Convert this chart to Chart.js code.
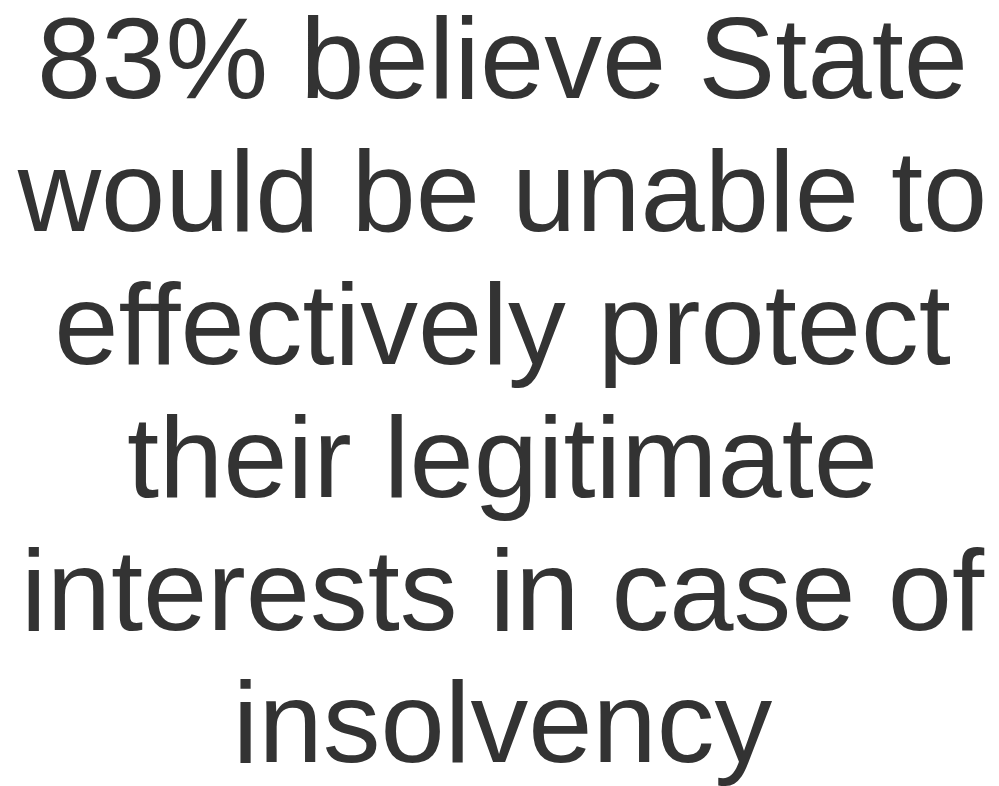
<!DOCTYPE html>
<html>
<head>
<meta charset="utf-8">
<script src="https://cdn.jsdelivr.net/npm/chart.js@4/dist/chart.umd.min.js"></script>
<style>
  html, body { margin: 0; padding: 0; background: #ffffff; }
  #wrap { width: 999px; height: 786px; }
</style>
</head>
<body>
<div id="wrap"><canvas id="headlineChart" width="999" height="786"></canvas></div>
<script>
// headline text, one entry per line as it wraps in the picture
const headlineLines = [
  '83% believe State',
  'would be unable to',
  'effectively protect',
  'their legitimate',
  'interests in case of',
  'insolvency'
];
// no bars in the picture; keep an empty series so the chart still builds
const categories = [];
const seriesValues = [];

const ctx = document.getElementById('headlineChart').getContext('2d');
window.headlineChart = new Chart(ctx, {
  type: 'bar',
  data: {
    labels: categories,
    datasets: [{ label: 'share', data: seriesValues, backgroundColor: '#333333' }]
  },
  options: {
    responsive: false,
    animation: false,
    // text in the picture sits a few px right of centre
    layout: { padding: { left: 6, right: 0, top: 0, bottom: 0 } },
    scales: {
      x: { display: false },
      y: { display: false }
    },
    plugins: {
      legend: { display: false },
      tooltip: { enabled: false },
      title: {
        display: true,
        text: headlineLines,
        color: '#333333',
        align: 'center',
        padding: { top: 0, bottom: 0 },
        font: { family: '"Liberation Sans", Arial, sans-serif', size: 115.5, weight: 'normal', lineHeight: 1.15 }
      }
    }
  }
});
</script>
</body>
</html>
